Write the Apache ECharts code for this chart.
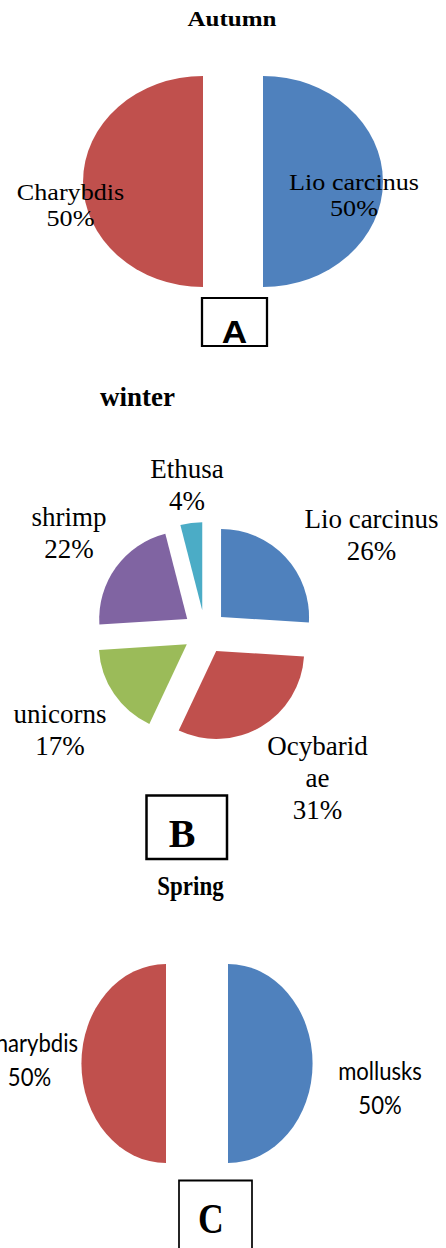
<!DOCTYPE html>
<html>
<head>
<meta charset="utf-8">
<script src="https://cdn.jsdelivr.net/npm/echarts@6/dist/echarts.min.js"></script>
<style>
  html, body { margin: 0; padding: 0; background: #ffffff; }
  body { width: 446px; height: 1248px; position: relative; overflow: hidden; }
  .panel { position: absolute; left: 0; top: 0; height: 1248px; transform-origin: 0 0; }
</style>
</head>
<body>
<div id="autumn" class="panel"></div>
<div id="winter" class="panel"></div>
<div id="spring" class="panel"></div>
<script>
// Seasonal composition of the catch (percent of individuals)
const autumnNames  = ['Lio carcinus', 'Charybdis'];
const autumnValues = [50, 50];

const winterNames  = ['Lio carcinus', 'Ocybaridae', 'unicorns', 'shrimp', 'Ethusa'];
const winterValues = [26, 31, 17, 22, 4];

const springNames  = ['mollusks', 'Charybdis'];
const springValues = [50, 50];

const seasonTitles = ['Autumn', 'winter', 'Spring'];
const panelTags    = ['A', 'B', 'C'];

// Office-style slice colours, keyed by taxon
const taxonColor = {
  'Lio carcinus': '#4F81BD',
  'mollusks':     '#4F81BD',
  'Charybdis':    '#C0504D',
  'Ocybaridae':   '#C0504D',
  'unicorns':     '#9BBB59',
  'shrimp':       '#8064A2',
  'Ethusa':       '#4BACC6'
};

const SERIF = '"Liberation Serif", "Times New Roman", serif';
const SANS  = '"Liberation Sans", Arial, sans-serif';
const LATO  = 'Lato, "Open Sans", sans-serif';

// Each panel is drawn in its own container; the first and last are
// stretched horizontally so their pies come out as ellipses.
function setupPanel(id, sx) {
  const el = document.getElementById(id);
  el.style.width = (446 / sx) + 'px';
  el.style.transform = 'scaleX(' + sx + ')';
  return echarts.init(el, null, { renderer: 'svg' });
}

function buildData(names, values) {
  return names.map(function (n, i) {
    return { name: n, value: values[i], selected: true, itemStyle: { color: taxonColor[n] } };
  });
}

function textEl(x, y, text, size, family, weight, extra) {
  const style = {
    text: text, fontSize: size, fontFamily: family, fontWeight: weight || 'normal',
    fill: '#000', align: 'center', verticalAlign: 'middle',
    textAlign: 'center', textVerticalAlign: 'middle'
  };
  if (extra) Object.assign(style, extra);
  return { type: 'text', x: x, y: y, z: 100, silent: true, style: style };
}

function boxEl(x, y, w, h, lw) {
  return {
    type: 'rect', z: 100, shape: { x: x, y: y, width: w, height: h },
    style: { fill: 'none', stroke: '#000', lineWidth: lw }
  };
}

// Slice labels: name on top, share of the total below, taken from the same values
function sliceLabels(names, values, positions, size, family, lh, wraps) {
  const total = values.reduce(function (a, b) { return a + b; }, 0);
  return names.map(function (n, i) {
    const pct = Math.round(values[i] / total * 100) + '%';
    const extra = { lineHeight: lh };
    if (wraps && wraps[n]) { extra.width = wraps[n]; extra.overflow = 'breakAll'; }
    return textEl(positions[i][0], positions[i][1], n + '\n' + pct, size, family, 'normal', extra);
  });
}

function pieSeries(data, center, radius, offset) {
  return {
    type: 'pie',
    z: 2,
    center: center,
    radius: radius,
    startAngle: 90,
    clockwise: true,
    selectedMode: 'multiple',
    selectedOffset: offset,
    animation: false,
    silent: true,
    label: { show: false },
    labelLine: { show: false },
    emphasis: { disabled: true },
    data: data
  };
}

// ---- Autumn ----
const sxA = 1.137;
const chartA = setupPanel('autumn', sxA);
chartA.setOption({
  animation: false,
  series: [pieSeries(buildData(autumnNames, autumnValues), [233 / sxA, 181.5], 105.5, 26.4)],
  graphic: [
    textEl(232 / sxA, 19, seasonTitles[0], 22, SERIF, 'bold'),
    boxEl(202 / sxA, 298, 65 / sxA, 48, 2),
    textEl(234.5 / sxA, 332, panelTags[0], 31, SANS, 'bold')
  ].concat(sliceLabels(autumnNames, autumnValues,
    [[354 / sxA, 195], [70.5 / sxA, 205.5]], 23, SERIF, 26))
});

// ---- Winter ----
const chartB = setupPanel('winter', 1);
chartB.setOption({
  animation: false,
  series: [pieSeries(buildData(winterNames, winterValues), [205, 632], 88, 22)],
  graphic: [
    textEl(137.5, 397, seasonTitles[1], 27, SERIF, 'bold'),
    boxEl(146.5, 795.5, 80.5, 63.5, 2.5),
    textEl(182, 833.5, panelTags[1], 40, SERIF, 'bold')
  ].concat(sliceLabels(winterNames, winterValues,
    [[371.5, 534.5], [317.5, 778], [60, 730], [69, 533], [187, 485]],
    27, SERIF, 32, { 'Ocybaridae': 106 }))
});

// ---- Spring ----
const sxC = 0.85;
const chartC = setupPanel('spring', sxC);
chartC.setOption({
  animation: false,
  series: [pieSeries(buildData(springNames, springValues), [197 / sxC, 1063.5], 99.5, 31 / sxC)],
  graphic: [
    textEl(190.5 / sxC, 886, seasonTitles[2], 27, SERIF, 'bold'),
    boxEl(179 / sxC, 1180.5, 73 / sxC, 70, 2),
    textEl(211 / sxC, 1218.5, panelTags[2], 42, SERIF, 'bold')
  ].concat(sliceLabels(springNames, springValues,
    [[380 / sxC, 1087], [29.5 / sxC, 1059]], 26, LATO, 34))
});
</script>
</body>
</html>
